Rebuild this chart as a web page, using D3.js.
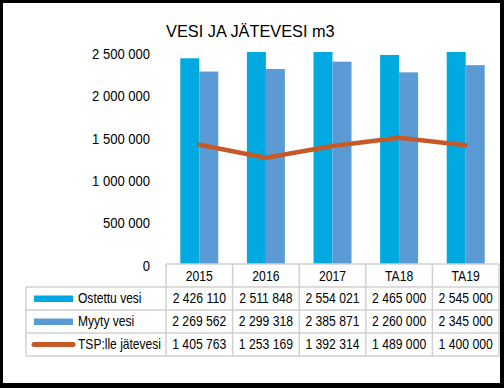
<!DOCTYPE html>
<html><head><meta charset="utf-8">
<script src="https://cdn.jsdelivr.net/npm/d3@7"></script>
<style>body{margin:0;background:#fff}svg{display:block}text{font-family:"Liberation Sans",Arial,sans-serif;fill:#000}</style>
</head><body><svg id="c" width="504" height="388"></svg>
<script>
const title = "VESI JA JÄTEVESI m3";
const categories = ["2015", "2016", "2017", "TA18", "TA19"];
const seriesNames = ["Ostettu vesi", "Myyty vesi", "TSP:lle jätevesi"];
const ostettu = [2426110, 2511848, 2554021, 2465000, 2545000];
const myyty = [2269562, 2299318, 2385871, 2260000, 2345000];
const tsp = [1405763, 1253169, 1392314, 1489000, 1400000];
const yTicks = [0, 500000, 1000000, 1500000, 2000000, 2500000];
const colors = ["#00A9E0", "#5B9BD5", "#C55A28"];

const loc = d3.formatLocale({decimal: ",", thousands: " ", grouping: [3], currency: ["", ""]});
const fmt = loc.format(",d");

// narrow the glyphs (mimics a condensed face)
function condense(sel, k) {
  sel.each(function () {
    const w = this.getComputedTextLength();
    d3.select(this).attr("textLength", w * k).attr("lengthAdjust", "spacingAndGlyphs");
  });
}

const svg = d3.select("#c");
svg.append("rect").attr("width", 504).attr("height", 388).attr("fill", "#000");
svg.append("rect").attr("x", 3).attr("y", 3).attr("width", 497).attr("height", 380).attr("fill", "#fff");

const plotL = 166, plotR = 499, plotT = 52, plotB = 264;
const x = d3.scaleBand().domain(categories).range([plotL, plotR]).padding(0);
const y = d3.scaleLinear().domain([0, 2500000]).range([plotB, plotT]);
const inner = d3.scaleBand().domain(seriesNames.slice(0, 2))
  .range([x.bandwidth() / 2 - 19, x.bandwidth() / 2 + 19]).padding(0);

svg.append("defs").append("clipPath").attr("id", "clip")
  .append("rect").attr("x", plotL).attr("y", plotT).attr("width", plotR - plotL).attr("height", plotB - plotT);

// title
const t = svg.append("text").attr("x", 166).attr("y", 37).attr("font-size", 17).text(title);
condense(t, 0.96);

// y axis labels
const yAxis = d3.axisLeft(y).tickValues(yTicks).tickFormat(fmt).tickSize(0).tickPadding(0);
const ya = svg.append("g").attr("transform", "translate(150,0)").call(yAxis);
ya.select(".domain").remove();
ya.selectAll("text").attr("font-size", 14).attr("font-family", '"Liberation Sans",Arial,sans-serif')
  .attr("fill", "#000").attr("dy", "0.45em");
condense(ya.selectAll("text"), 0.93);

// bars
const barG = svg.append("g").attr("clip-path", "url(#clip)");
const barSeries = [ostettu, myyty];
barSeries.forEach((vals, si) => {
  barG.selectAll(null).data(vals).enter().append("rect")
    .attr("x", (d, i) => x(categories[i]) + inner(seriesNames[si]))
    .attr("width", inner.bandwidth())
    .attr("y", d => y(d))
    .attr("height", d => y(0) - y(d))
    .attr("fill", colors[si]);
});

// line
const line = d3.line().x((d, i) => x(categories[i]) + x.bandwidth() / 2).y(d => y(d));
svg.append("path").datum(tsp).attr("d", line).attr("fill", "none")
  .attr("stroke", colors[2]).attr("stroke-width", 4.5).attr("stroke-linejoin", "round").attr("stroke-linecap", "round");

// data table
const rowTop = [287, 310, 333], rowH = 23, headTop = 264, legL = 26;
const grid = svg.append("g").attr("stroke", "#d0d0d0").attr("stroke-width", 1.5);
grid.append("line").attr("x1", plotL).attr("x2", plotR).attr("y1", headTop).attr("y2", headTop);
[287, 310, 333, 356].forEach(yy => grid.append("line").attr("x1", legL).attr("x2", plotR).attr("y1", yy).attr("y2", yy));
grid.append("line").attr("x1", legL).attr("x2", legL).attr("y1", 287).attr("y2", 356);
categories.forEach(c => grid.append("line").attr("x1", x(c)).attr("x2", x(c)).attr("y1", headTop).attr("y2", 356));
grid.append("line").attr("x1", plotR).attr("x2", plotR).attr("y1", headTop).attr("y2", 356);

// header
const hd = svg.selectAll(null).data(categories).enter().append("text")
  .attr("x", d => x(d) + x.bandwidth() / 2).attr("y", headTop + 16.5)
  .attr("text-anchor", "middle").attr("font-size", 14.5).text(d => d);
condense(hd, 0.84);

const allSeries = [ostettu, myyty, tsp];
allSeries.forEach((vals, si) => {
  const ty = rowTop[si] + 16.3;
  const vt = svg.selectAll(null).data(vals).enter().append("text")
    .attr("x", (d, i) => x(categories[i]) + x.bandwidth() / 2).attr("y", ty)
    .attr("text-anchor", "middle").attr("font-size", 14.5)
    .text(d => fmt(d));
  condense(vt, 0.84);
  // legend
  const cy = rowTop[si] + rowH / 2;
  if (si < 2) {
    svg.append("rect").attr("x", 34).attr("y", cy - 3).attr("width", 39).attr("height", 6.5).attr("fill", colors[si]);
  } else {
    svg.append("line").attr("x1", 34).attr("x2", 73).attr("y1", cy).attr("y2", cy)
      .attr("stroke", colors[si]).attr("stroke-width", 5).attr("stroke-linecap", "round");
  }
  const lt = svg.append("text").attr("x", 78).attr("y", ty).attr("font-size", 14.5).text(seriesNames[si]);
  condense(lt, 0.83);
});
</script></body></html>
